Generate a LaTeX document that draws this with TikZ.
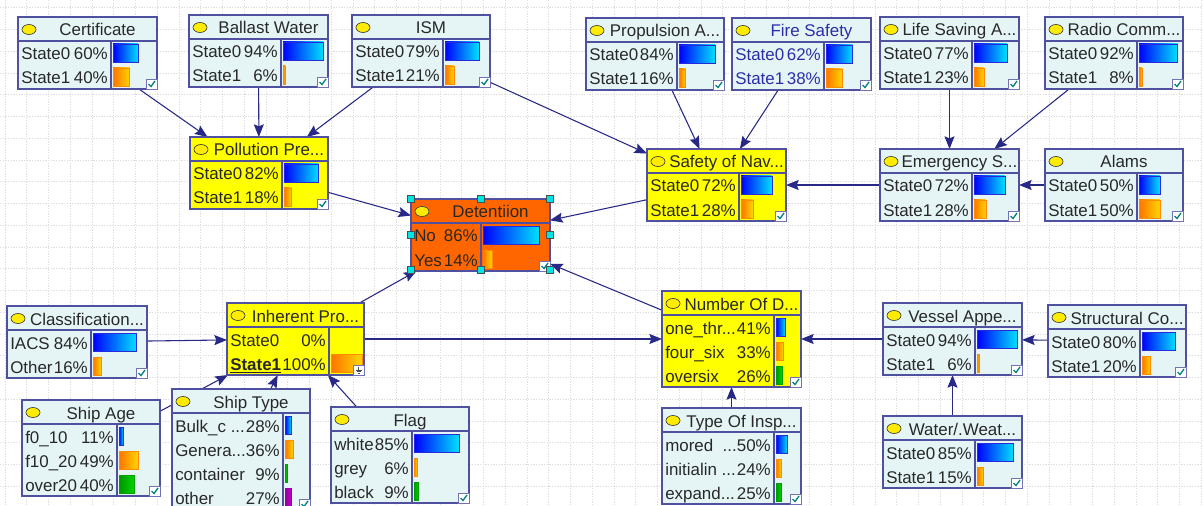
\documentclass[tikz,border=0pt]{standalone}
\usepackage{fontspec}
\setmainfont{Liberation Sans}
\usetikzlibrary{arrows.meta}
\pgfdeclarelayer{gridlayer}
\pgfdeclarelayer{edgelayer}
\pgfsetlayers{gridlayer,edgelayer,main}

\definecolor{nodebg}{RGB}{229,245,246}
\definecolor{nodeyellow}{RGB}{255,255,0}
\definecolor{nodeorange}{RGB}{255,102,0}
\definecolor{framec}{RGB}{80,80,160}
\definecolor{txt}{RGB}{40,40,40}
\definecolor{bluetxt}{RGB}{45,45,170}
\definecolor{edgec}{RGB}{40,40,135}
\definecolor{gridc}{RGB}{222,222,222}
\definecolor{ovalc}{RGB}{255,236,0}
\definecolor{tickc}{RGB}{0,128,128}
\definecolor{handlec}{RGB}{0,228,228}

\tikzset{
  bnframe/.style={draw=framec, line width=0.9pt, inner sep=0pt, outer sep=0pt, rectangle},
  bnsep/.style={draw=framec, line width=0.8pt},
  bntext/.style={inner sep=0pt, font=\fontsize{12.7}{15}\selectfont},
  link/.style={draw=edgec, line width=0.8pt, -{Stealth[length=9.5pt,width=7.5pt,inset=1.5pt]}},
  gridline/.style={draw=gridc, line width=0.6pt, dash pattern=on 1pt off 1pt},
  barb/.style={left color={rgb,255:red,0;green,0;blue,255}, right color={rgb,255:red,0;green,225;blue,255}, draw={rgb,255:red,40;green,40;blue,220}, line width=0.6pt},
  baro/.style={left color={rgb,255:red,255;green,115;blue,0}, right color={rgb,255:red,255;green,215;blue,0}, draw={rgb,255:red,255;green,140;blue,0}, line width=0.6pt},
  barg/.style={left color={rgb,255:red,0;green,150;blue,0}, right color={rgb,255:red,0;green,215;blue,0}, draw={rgb,255:red,0;green,160;blue,0}, line width=0.6pt},
  barp/.style={left color={rgb,255:red,150;green,0;blue,160}, right color={rgb,255:red,190;green,0;blue,200}, draw={rgb,255:red,150;green,0;blue,160}, line width=0.6pt},
  barn/.style={draw=none, fill=none},
}

% \bnnode{name}{left}{top}{right}{divider}{states}{fill}{text colour}{title}
\newcommand\bnnode[9]{%
  \def\bnname{#1}\def\bnL{#2}\def\bnT{#3}\def\bnR{#4}\def\bnD{#5}\def\bncol{#8}%
  \pgfmathsetmacro\bnB{#3+24+24*#6}%
  \pgfmathsetmacro\bnWpt{(#4-#2)*0.75}%
  \pgfmathsetmacro\bnHpt{(\bnB-#3)*0.75}%
  \node[bnframe, fill=#7, minimum width=\bnWpt pt, minimum height=\bnHpt pt, anchor=north west] (#1) at (#2,#3) {};
  \draw[bnsep] (#2,#3+24) -- (#4,#3+24) (#5,#3+24) -- (#5,\bnB);
  \draw[draw=black!75, fill=ovalc, line width=0.5pt] (#2+11,#3+12.5) ellipse [x radius=7, y radius=5];
  \node[bntext, text=#8, anchor=base] (#1-title) at ({(#2+20+#4)/2},#3+19) {#9};
  \draw[fill=white, draw=framec!80, line width=0.5pt] (#4-11,\bnB-10) rectangle (#4,\bnB);
  \draw[tickc, line width=1pt] (#4-8.5,\bnB-5) -- (#4-6,\bnB-2.5) -- (#4-2,\bnB-8);
}

% \bnrow{index}{state}{percent}{fraction}{bar kind}
\newcommand\bnrow[5]{%
  \pgfmathsetmacro\bny{\bnT+43+24*#1}%
  \node[bntext, text=\bncol, anchor=base west] (\bnname-s#1) at (\bnL+3,\bny) {#2};
  \node[bntext, text=\bncol, anchor=base east] (\bnname-p#1) at (\bnD-3,\bny) {#3};
  \pgfmathsetmacro\bnbx{\bnD+2+#4*(\bnR-\bnD-4)}%
  \draw[bar#5] (\bnD+2,\bnT+27+24*#1) rectangle (\bnbx,\bnT+45+24*#1);
}

\begin{document}
\begin{tikzpicture}[x=0.75pt, y=-0.75pt]
\useasboundingbox (0,0) rectangle (1203,506);
\clip (0,0) rectangle (1203,506);

% background grid
\begin{pgfonlayer}{gridlayer}
  \fill[white] (0,0) rectangle (1203,506);
  \foreach \k in {0,...,55} { \draw[gridline] ({5+21.75*\k},0) -- ({5+21.75*\k},506); }
  \foreach \k in {0,...,23} { \draw[gridline] (0,{7.7+21.75*\k}) -- (1203,{7.7+21.75*\k}); }
\end{pgfonlayer}

% top row
\bnnode{cert}{18}{17}{157}{111}{2}{nodebg}{txt}{Certificate}
\bnrow{0}{State0}{60\%}{0.60}{b}
\bnrow{1}{State1}{40\%}{0.40}{o}

\bnnode{ballast}{189}{15}{328}{281}{2}{nodebg}{txt}{Ballast Water}
\bnrow{0}{State0}{94\%}{0.94}{b}
\bnrow{1}{State1}{6\%}{0.06}{o}

\bnnode{ism}{352}{15}{490}{443}{2}{nodebg}{txt}{ISM}
\bnrow{0}{State0}{79\%}{0.79}{b}
\bnrow{1}{State1}{21\%}{0.21}{o}

\bnnode{prop}{586}{18}{724}{677}{2}{nodebg}{txt}{Propulsion A...}
\bnrow{0}{State0}{84\%}{0.84}{b}
\bnrow{1}{State1}{16\%}{0.16}{o}

\bnnode{fire}{732}{18}{871}{824}{2}{nodebg}{bluetxt}{Fire Safety}
\bnrow{0}{State0}{62\%}{0.62}{b}
\bnrow{1}{State1}{38\%}{0.38}{o}

\bnnode{life}{880}{17}{1019}{972}{2}{nodebg}{txt}{Life Saving A...}
\bnrow{0}{State0}{77\%}{0.77}{b}
\bnrow{1}{State1}{23\%}{0.23}{o}

\bnnode{radio}{1045}{17}{1183}{1137}{2}{nodebg}{txt}{Radio Comm...}
\bnrow{0}{State0}{92\%}{0.92}{b}
\bnrow{1}{State1}{8\%}{0.08}{o}

% second row
\bnnode{poll}{190}{137}{328}{282}{2}{nodeyellow}{txt}{Pollution Pre...}
\bnrow{0}{State0}{82\%}{0.82}{b}
\bnrow{1}{State1}{18\%}{0.18}{o}

\bnnode{safety}{647}{149}{786}{739}{2}{nodeyellow}{txt}{Safety of Nav...}
\bnrow{0}{State0}{72\%}{0.72}{b}
\bnrow{1}{State1}{28\%}{0.28}{o}

\bnnode{emerg}{880}{149}{1019}{972}{2}{nodebg}{txt}{Emergency S...}
\bnrow{0}{State0}{72\%}{0.72}{b}
\bnrow{1}{State1}{28\%}{0.28}{o}

\bnnode{alams}{1045}{149}{1183}{1137}{2}{nodebg}{txt}{Alams}
\bnrow{0}{State0}{50\%}{0.50}{b}
\bnrow{1}{State1}{50\%}{0.50}{o}

% target node
\bnnode{det}{411}{199}{550}{481}{2}{nodeorange}{txt}{Detentiion}
\bnrow{0}{No}{86\%}{0.86}{b}
\bnrow{1}{Yes}{14\%}{0.14}{o}

% lower half
\bnnode{class}{7}{306}{147}{91}{2}{nodebg}{txt}{Classification...}
\bnrow{0}{IACS}{84\%}{0.84}{b}
\bnrow{1}{Other}{16\%}{0.16}{o}

\bnnode{inher}{227}{303}{364}{329}{2}{nodeyellow}{txt}{Inherent Pro...}
\bnrow{0}{State0}{0\%}{0}{n}
\bnrow{1}{\underline{\textbf{State1}}}{100\%}{1}{o}
% evidence marker in place of the check box
\draw[fill=white, draw=framec!80, line width=0.5pt] (353,365) rectangle (364,375);
\draw[black!70, line width=0.6pt] (358.5,366.5) -- (358.5,370) (355.5,370) -- (361.5,370) (356.5,371.8) -- (360.5,371.8) (357.5,373.4) -- (359.5,373.4);

\bnnode{age}{22}{400}{160}{117}{3}{nodebg}{txt}{Ship Age}
\bnrow{0}{f0\_10}{11\%}{0.11}{b}
\bnrow{1}{f10\_20}{49\%}{0.49}{o}
\bnrow{2}{over20}{40\%}{0.40}{g}

\bnnode{stype}{172}{389}{310}{283}{4}{nodebg}{txt}{Ship Type}
\bnrow{0}{Bulk\_c ...}{28\%}{0.28}{b}
\bnrow{1}{Genera...}{36\%}{0.36}{o}
\bnrow{2}{container}{9\%}{0.09}{g}
\bnrow{3}{other}{27\%}{0.27}{p}

\bnnode{flag}{331}{407}{469}{412}{3}{nodebg}{txt}{Flag}
\bnrow{0}{white}{85\%}{0.85}{b}
\bnrow{1}{grey}{6\%}{0.06}{o}
\bnrow{2}{black}{9\%}{0.09}{g}

\bnnode{numd}{662}{291}{801}{774}{3}{nodeyellow}{txt}{Number Of D...}
\bnrow{0}{one\_thr...}{41\%}{0.41}{b}
\bnrow{1}{four\_six}{33\%}{0.33}{o}
\bnrow{2}{oversix}{26\%}{0.26}{g}

\bnnode{insp}{662}{408}{801}{774}{3}{nodebg}{txt}{Type Of Insp...}
\bnrow{0}{mored\ \ ...}{50\%}{0.50}{b}
\bnrow{1}{initialin ...}{24\%}{0.24}{o}
\bnrow{2}{expand...}{25\%}{0.25}{g}

\bnnode{vessel}{883}{303}{1022}{975}{2}{nodebg}{txt}{Vessel Appe...}
\bnrow{0}{State0}{94\%}{0.94}{b}
\bnrow{1}{State1}{6\%}{0.06}{o}

\bnnode{struct}{1048}{305}{1186}{1140}{2}{nodebg}{txt}{Structural Co...}
\bnrow{0}{State0}{80\%}{0.80}{b}
\bnrow{1}{State1}{20\%}{0.20}{o}

\bnnode{water}{883}{416}{1022}{975}{2}{nodebg}{txt}{Water/.Weat...}
\bnrow{0}{State0}{85\%}{0.85}{b}
\bnrow{1}{State1}{15\%}{0.15}{o}

% arcs of the network
\begin{pgfonlayer}{edgelayer}
  \draw[link] (cert) -- (poll);
  \draw[link] (ballast) -- (poll);
  \draw[link] (ism) -- (poll);
  \draw[link] (ism) -- (safety);
  \draw[link] (prop) -- (safety);
  \draw[link] (fire) -- (safety);
  \draw[link] (life) -- (emerg);
  \draw[link] (radio) -- (emerg);
  \draw[link] (alams) -- (emerg);
  \draw[link] (emerg) -- (safety);
  \draw[link] (poll) -- (det);
  \draw[link] (safety) -- (det);
  \draw[link] (inher) -- (det);
  \draw[link] (numd) -- (det);
  \draw[link] (class) -- (inher);
  \draw[link] (age) -- (inher);
  \draw[link] (stype) -- (inher);
  \draw[link] (flag) -- (inher);
  \draw[link] (inher) -- (numd);
  \draw[link] (vessel) -- (numd);
  \draw[link] (struct) -- (vessel);
  \draw[link] (water) -- (vessel);
  \draw[link] (insp) -- (numd);
\end{pgfonlayer}

% selection handles round the target node
\foreach \hx/\hy in {411/199, 481/199, 550/199, 411/235, 550/235, 411/270, 481/270, 550/270}
  \draw[fill=handlec, draw=black!70, line width=0.5pt] (\hx-3.5,\hy-3.5) rectangle (\hx+3.5,\hy+3.5);
\end{tikzpicture}
\end{document}
